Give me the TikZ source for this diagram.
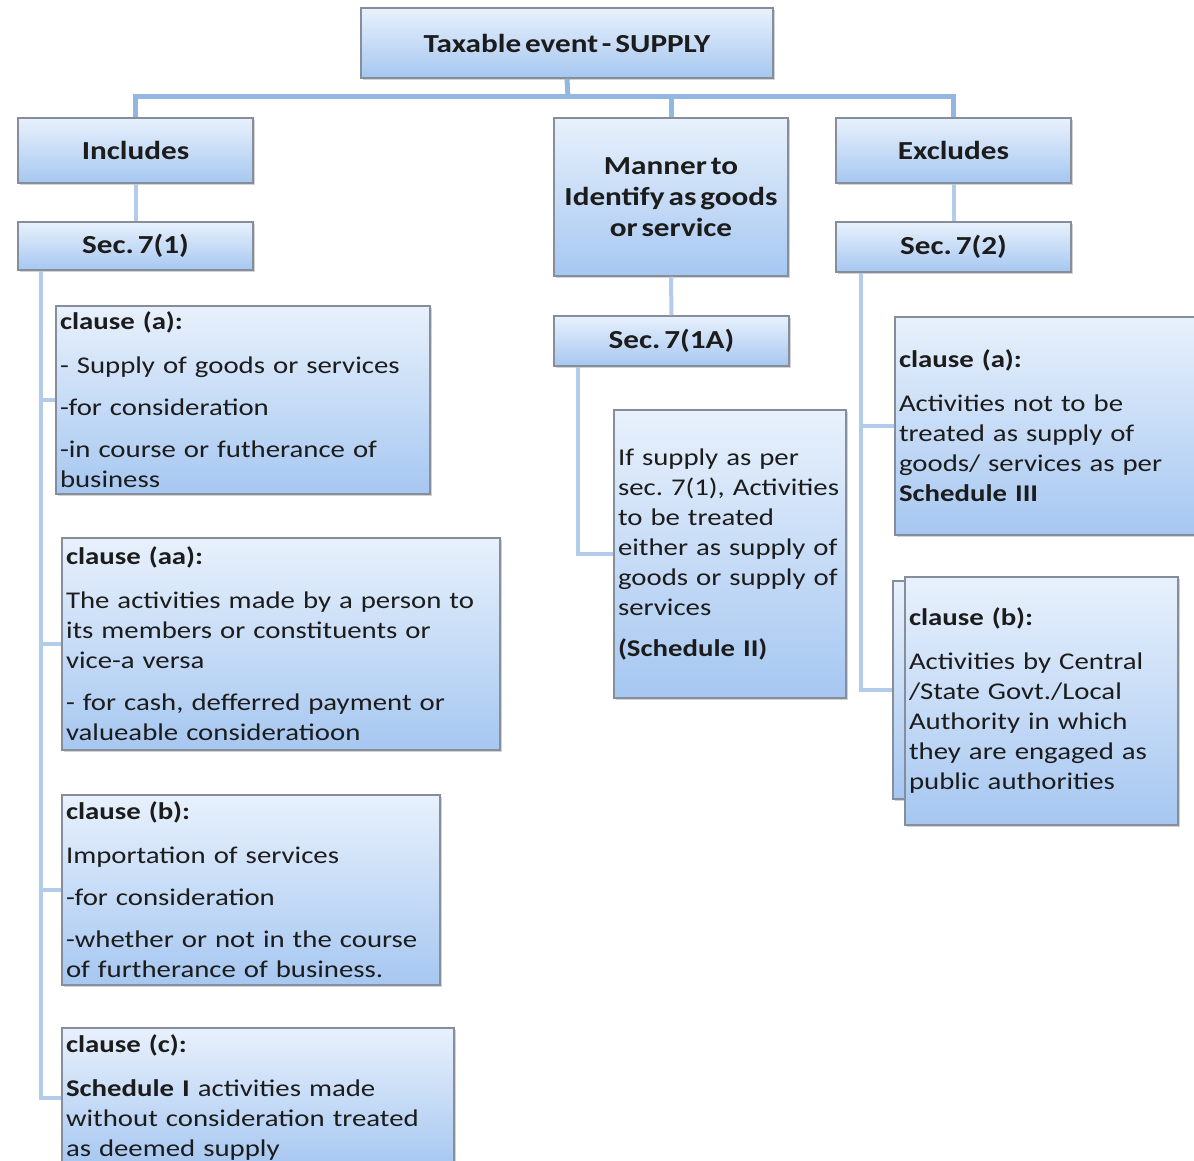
\documentclass[tikz,border=0pt]{standalone}
\usepackage{fontspec}
\setmainfont{Carlito}[FakeStretch=1.2, WordSpace=0.55]
\usepackage{tikz}
\usetikzlibrary{shadows}
\frenchspacing
\hyphenpenalty=10000

\definecolor{boxtop}{HTML}{E8F1FC}
\definecolor{boxbot}{HTML}{A6C7F1}
\definecolor{boxline}{HTML}{858E9A}
\definecolor{busline}{HTML}{93B6E2}
\definecolor{linkline}{HTML}{B3CCEC}
\definecolor{ink}{HTML}{1C1C1C}

\begin{document}
\begin{tikzpicture}[x=1pt, y=-1pt,
    box/.style={draw=boxline, line width=1.5pt, top color=boxtop, bottom color=boxbot,
        drop shadow={shadow xshift=2pt, shadow yshift=-2pt, opacity=0.35}, text=ink, inner sep=0pt},
    headbox/.style={box, font=\fontsize{26}{31}\selectfont\bfseries, align=center},
    clausebox/.style={box, font=\fontsize{24}{30}\selectfont, align=left, inner xsep=4pt},
    bus/.style={busline, line width=5pt},
    link/.style={linkline, line width=4pt}]
        \clip (0,0) rectangle (1194,1161);

        % top level
        \node[headbox, minimum width=412pt, minimum height=70pt] (top) at (567,43) {Taxable event - SUPPLY};

        % three branches
        \node[headbox, minimum width=235pt, minimum height=65pt] (inc) at (135.5,150.5) {Includes};
        \node[headbox, minimum width=234pt, minimum height=158pt] (man) at (671,197) {Manner to\\Identify as goods\\or service};
        \node[headbox, minimum width=235pt, minimum height=65pt] (exc) at (953.5,150.5) {Excludes};

        % sections
        \node[headbox, minimum width=235pt, minimum height=48pt] (sec1) at (135.5,246) {Sec. 7(1)};
        \node[headbox, minimum width=235pt, minimum height=50pt] (sec1a) at (671.5,341) {Sec. 7(1A)};
        \node[headbox, minimum width=235pt, minimum height=50pt] (sec2) at (953.5,247) {Sec. 7(2)};

        % connectors from the top box
        \coordinate (hub) at (568,97);
        \draw[bus] (top.south) -- (hub);
        \draw[bus] (inc.north) |- (hub) -| (exc.north);
        \draw[bus] (man.north) -- (man.north |- hub);
        \draw[link] (inc.south) -- (sec1.north);
        \draw[link] (exc.south) -- (sec2.north);
        \draw[link] (man.south) -- (sec1a.north);

        % clauses of Sec. 7(1)
        \node[clausebox, text width=366pt, minimum height=188pt] (ca) at (243,400)
            {\textbf{clause (a):}\\[14pt]- Supply of goods or services\\[12pt]-for consideration\\[12pt]-in course or futherance of\\business};
        \node[clausebox, text width=430pt, minimum height=212pt] (caa) at (281,644)
            {\textbf{clause (aa):}\\[14pt]The activities made by a person to\\its members or constituents or\\vice-a versa\\[12pt]- for cash, defferred payment or\\valueable consideratioon};
        \node[clausebox, text width=370pt, minimum height=190pt] (cb) at (251,890)
            {\textbf{clause (b):}\\[14pt]Importation of services\\[12pt]-for consideration\\[12pt]-whether or not in the course\\of furtherance of business.};
        \node[clausebox, text width=384pt, minimum height=140pt] (cc) at (258,1098)
            {\textbf{clause (c):}\\[14pt]\textbf{Schedule I} activities made\\without consideration treated\\as deemed supply};

        % clause of Sec. 7(1A)
        \node[clausebox, text width=224pt, minimum height=288pt] (mid) at (730,554)
            {If supply as per\\sec. 7(1), Activities\\to be treated\\either as supply of\\goods or supply of\\services\\[11pt]\textbf{(Schedule II)}};

        % clauses of Sec. 7(2)
        \node[clausebox, text width=297pt, minimum height=218pt] (ra) at (1047.5,426)
            {\textbf{clause (a):}\\[14pt]Activities not to be\\treated as supply of\\goods/ services as per\\\textbf{Schedule III}};
        \node[box, minimum width=267pt, minimum height=218pt] (rbb) at (1026.5,690) {};
        \node[clausebox, text width=265pt, minimum height=248pt] (rb) at (1041.5,701)
            {\textbf{clause (b):}\\[14pt]Activities by Central\\/State Govt./Local\\Authority in which\\they are engaged as\\public authorities};

        % spines
        \coordinate (s1) at ([xshift=24pt]sec1.south west);
        \coordinate (s1a) at ([xshift=25pt]sec1a.south west);
        \coordinate (s2) at ([xshift=26pt]sec2.south west);
        \draw[link] (s1) |- (cc.west);
        \draw[link] (ca.west -| s1) -- (ca.west);
        \draw[link] (caa.west -| s1) -- (caa.west);
        \draw[link] (cb.west -| s1) -- (cb.west);
        \draw[link] (s1a) |- (mid.west);
        \draw[link] (s2) |- (rbb.west);
        \draw[link] (ra.west -| s2) -- (ra.west);
\end{tikzpicture}
\end{document}
